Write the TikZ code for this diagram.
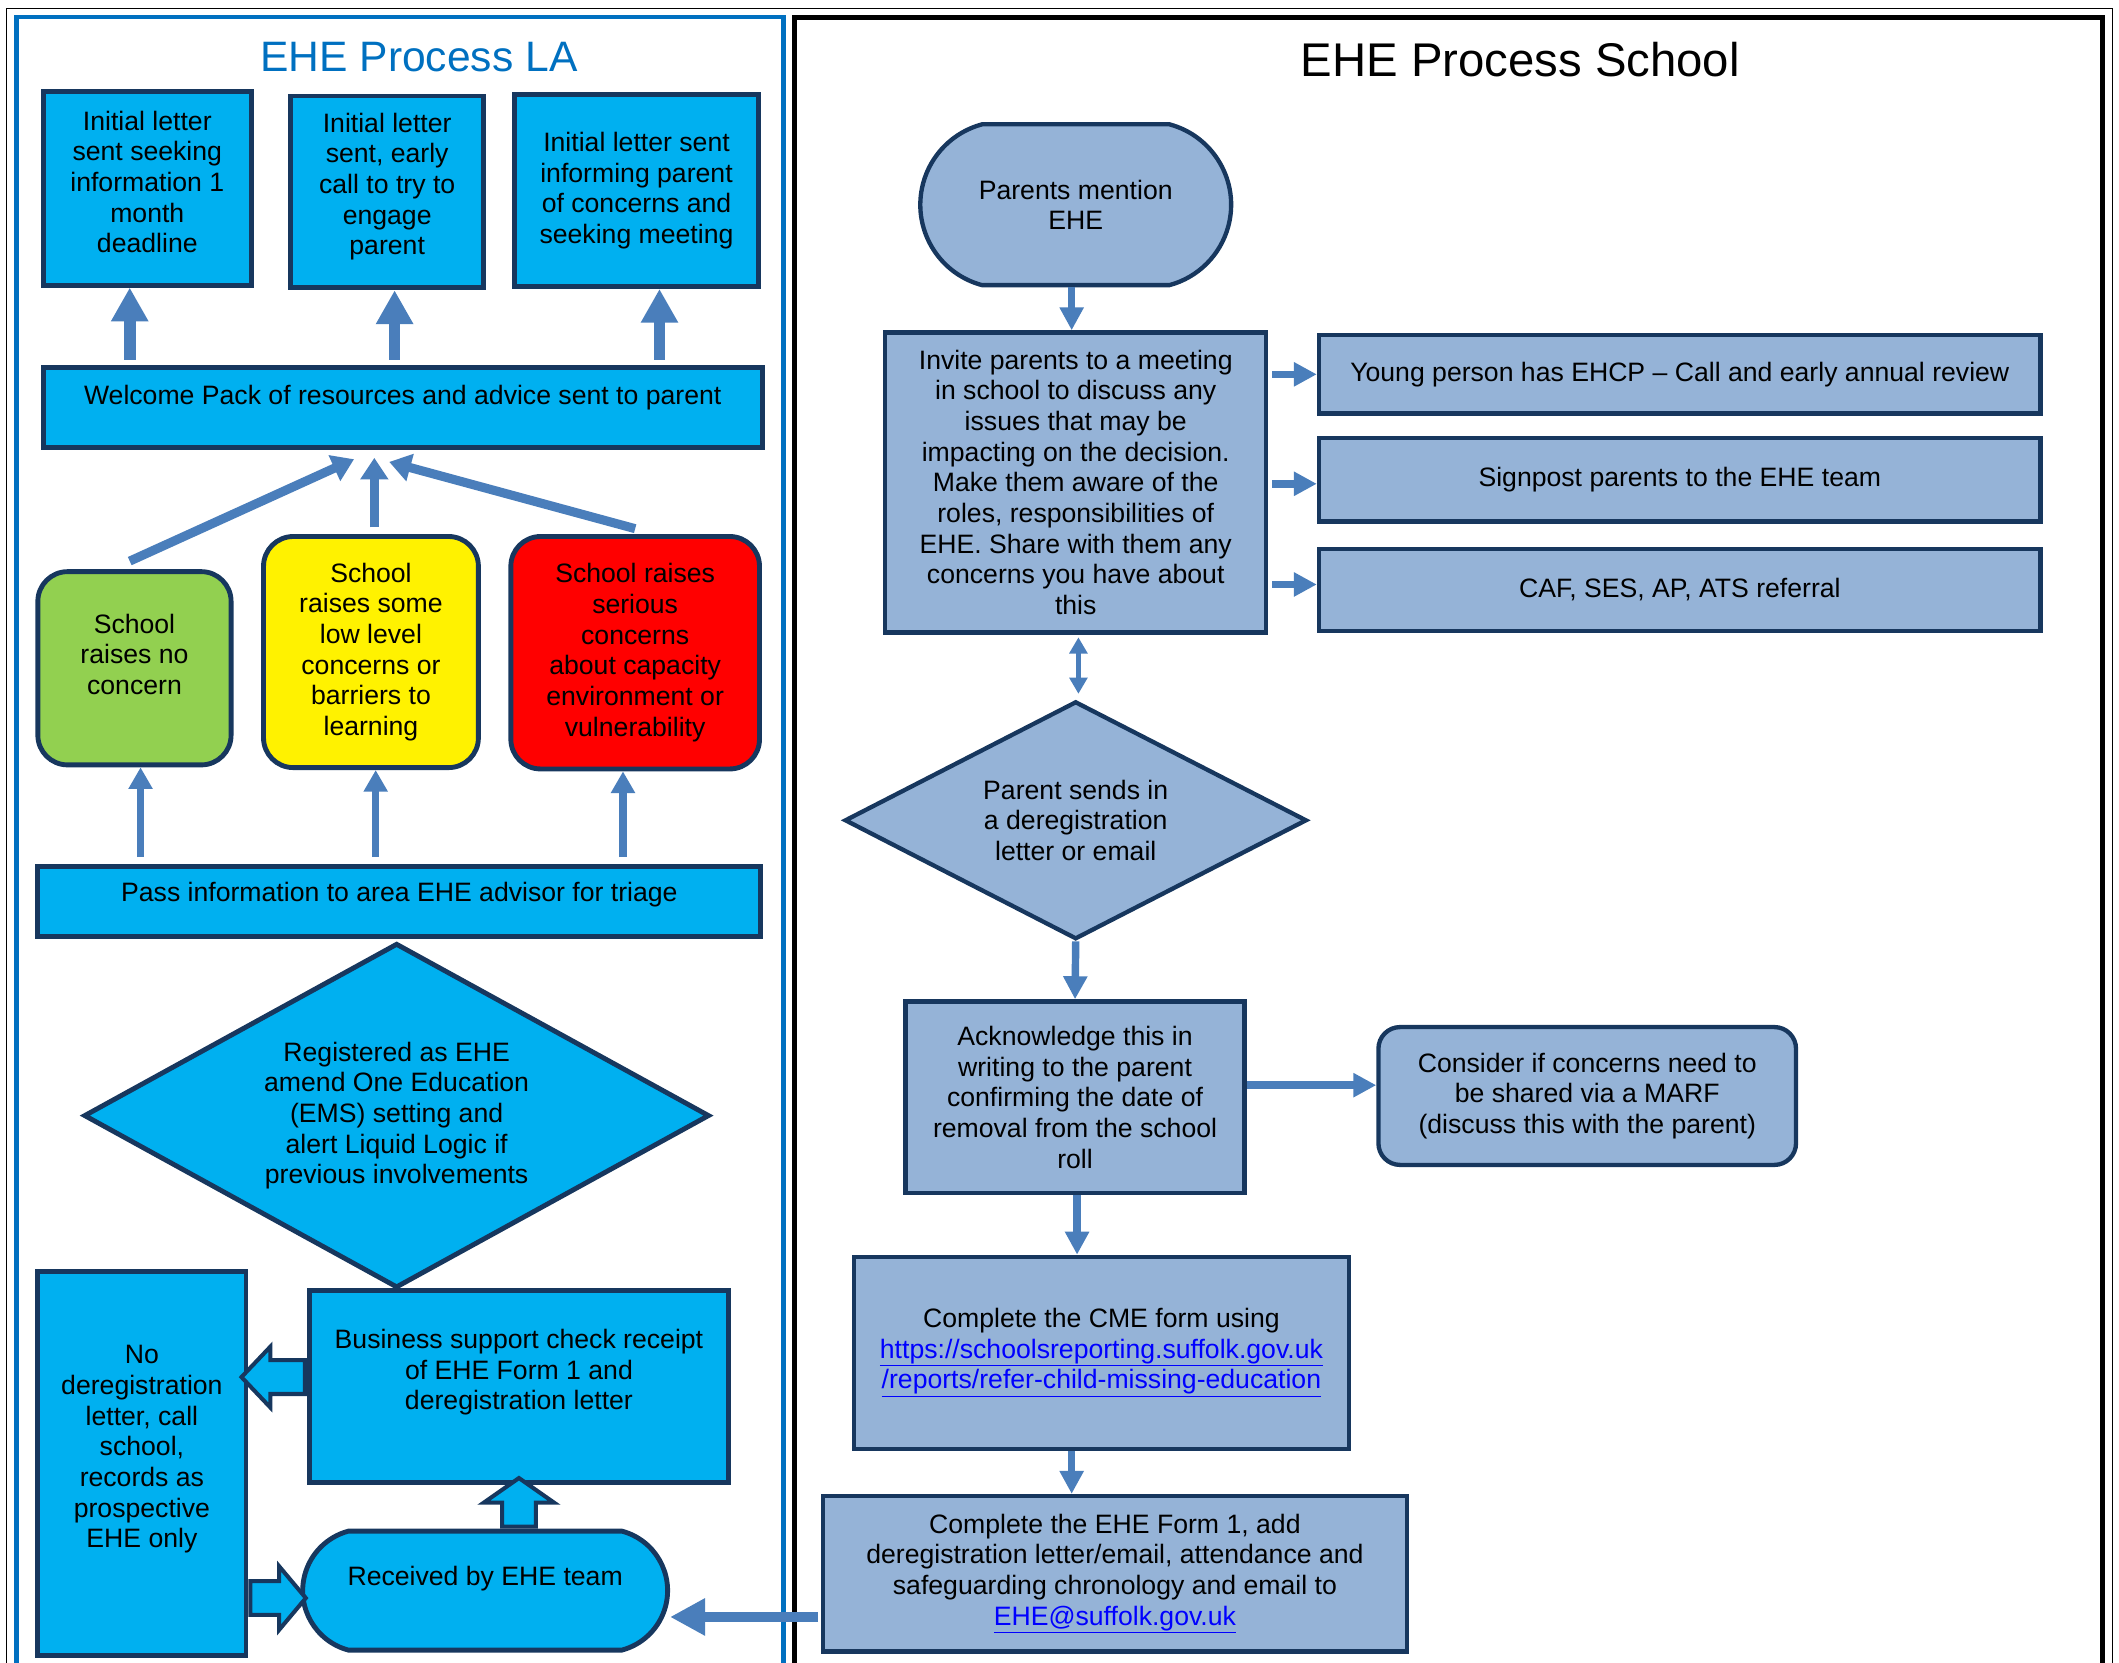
\documentclass[tikz,border=0pt]{standalone}
\usepackage{fontspec}
\setmainfont{Liberation Sans}
\usepackage{xcolor}
\usetikzlibrary{shapes.geometric,shapes.misc,shapes.arrows,arrows.meta,calc}

\definecolor{laCyan}{HTML}{00B0F0}
\definecolor{laBlue}{HTML}{0070C0}
\definecolor{edgeNavy}{HTML}{17375E}
\definecolor{arrBlue}{HTML}{4A7EBB}
\definecolor{schBlue}{HTML}{95B3D7}
\definecolor{okGreen}{HTML}{92D050}
\definecolor{linkBlue}{HTML}{0000FF}

\newcommand{\weblink}[1]{\textcolor{linkBlue}{\underline{#1}}}

\begin{document}
\begin{tikzpicture}[x=1pt, y=-1pt,
    txt/.style={font=\fontsize{19.7}{22.7}\selectfont, align=center, inner sep=0pt},
    labox/.style={txt, rectangle, draw=edgeNavy, line width=3.6pt, fill=laCyan},
    ragbox/.style={txt, rectangle, rounded corners=22pt, draw=edgeNavy, line width=3.6pt},
    schbox/.style={txt, rectangle, draw=edgeNavy, line width=3.2pt, fill=schBlue},
    lift/.style={text depth=#1},
    upfat/.style={arrBlue, line width=8.7pt, -{Triangle[width=26pt,length=25pt]}},
    upthin/.style={arrBlue, line width=5.2pt, -{Triangle[width=17pt,length=16pt]}},
    feed/.style={arrBlue, line width=6.7pt, -{Triangle[width=20pt,length=16pt]}},
    flow/.style={arrBlue, line width=5.5pt, -{Triangle[width=17pt,length=17pt]}},
    blockarr/.style={single arrow, draw=edgeNavy, line width=3pt, fill=laCyan, inner sep=11pt, anchor=tail}]
    \useasboundingbox (0,0) rectangle (1568,1230);

    % Frames.
    \draw[line width=0.5pt] (5,6) rectangle (1563,1240);
    \draw[laBlue, line width=3.5pt] (12,12.5) rectangle (580,1240);
    \draw[line width=3.5pt] (588,13) rectangle (1556,1240);

    % LA side.
    \node[font=\fontsize{31.5}{36}\selectfont, text=laBlue] (laTitle) at (310,42) {EHE Process LA};
    \node[labox, minimum width=154pt, minimum height=143pt, lift=10pt] (letterA) at (109,139.5)
        {Initial letter\\sent seeking\\information 1\\month\\deadline};
    \node[labox, minimum width=143pt, minimum height=142pt, lift=12pt] (letterB) at (286.5,142)
        {Initial letter\\sent, early\\call to try to\\engage\\parent};
    \node[labox, minimum width=180pt, minimum height=142pt] (letterC) at (471,141)
        {Initial letter sent\\informing parent\\of concerns and\\seeking meeting};
    \node[labox, minimum width=532pt, minimum height=59pt, lift=19pt] (welcome) at (298,301.5)
        {Welcome Pack of resources and advice sent to parent};
    \node[ragbox, fill=okGreen, minimum width=143pt, minimum height=143pt, lift=21pt] (noConcern) at (99.5,494.5)
        {School\\raises no\\concern};
    \node[ragbox, fill=yellow, minimum width=159pt, minimum height=171pt] (lowConcern) at (274.5,482.5)
        {School\\raises some\\low level\\concerns or\\barriers to\\learning};
    \node[ragbox, fill=red, minimum width=184pt, minimum height=172pt] (highConcern) at (470,483)
        {School raises\\serious\\concerns\\about capacity\\environment or\\vulnerability};
    \node[labox, minimum width=535pt, minimum height=52pt, lift=14pt] (triage) at (295.5,667)
        {Pass information to area EHE advisor for triage};
    \node[labox, diamond, aspect=1.82, minimum width=463pt, minimum height=255pt] (registered) at (293.5,825.5)
        {Registered as EHE\\amend One Education\\(EMS) setting and\\alert Liquid Logic if\\previous involvements};
    \node[labox, minimum width=154pt, minimum height=284pt, lift=25pt] (noDereg) at (105,1083)
        {No\\deregistration\\letter, call\\school,\\records as\\prospective\\EHE only};
    \node[labox, minimum width=310pt, minimum height=142pt, lift=25pt] (business) at (384,1026)
        {Business support check receipt\\of EHE Form 1 and\\deregistration letter};
    \node[labox, rounded rectangle, rounded rectangle arc length=150, minimum width=270pt, minimum height=88pt, lift=22pt] (received) at (359,1177)
        {Received by EHE team};

    % LA arrows.
    \draw[upfat] ($(welcome.north -| letterA.south)+(-13,-4)$) -- ($(letterA.south)+(-13,0)$);
    \draw[upfat] ($(welcome.north -| letterB.south)+(5.5,-4)$) -- ($(letterB.south)+(5.5,0)$);
    \draw[upfat] ($(welcome.north -| letterC.south)+(17,-4)$) -- ($(letterC.south)+(17,0)$);
    \draw[feed] ($(noConcern.north)+(-3.5,-6)$) -- ($(welcome.south)+(-36,7)$);
    \draw[feed] ($(lowConcern.north)+(2.5,-5)$) -- ($(welcome.south)+(-21,6)$);
    \draw[feed] ($(highConcern.north)+(0,-4)$) -- ($(welcome.south)+(-10,9)$);
    \draw[upthin] ($(triage.north -| noConcern.south)+(4.5,-5)$) -- ($(noConcern.south)+(4.5,0)$);
    \draw[upthin] ($(triage.north -| lowConcern.south)+(3.5,-5)$) -- ($(lowConcern.south)+(3.5,0)$);
    \draw[upthin] ($(triage.north -| highConcern.south)+(-9,-5)$) -- ($(highConcern.south)+(-9,0)$);
    \node[blockarr, shape border rotate=180, minimum height=47pt, minimum width=42pt, single arrow head extend=10pt, single arrow tip angle=93] (toNoDereg)
        at ($(business.west)+(0,-7)$) {};
    \node[blockarr, shape border rotate=90, minimum height=36pt, minimum width=49pt, single arrow head extend=13.5pt, single arrow tip angle=110] (toBusiness)
        at (business.south |- received.north) {};
    \node[blockarr, minimum height=41pt, minimum width=44pt, single arrow head extend=11pt, single arrow tip angle=100] (toReceived)
        at ($(noDereg.east |- received.west)+(0,5.5)$) {};

    % School side.
    \node[font=\fontsize{35}{40}\selectfont] (schTitle) at (1125,44) {EHE Process School};
    \node[schbox, rounded rectangle, rounded rectangle arc length=150, minimum width=230pt, minimum height=119pt] (mention) at (796,151.5)
        {Parents mention\\EHE};
    \node[schbox, minimum width=282pt, minimum height=222pt] (invite) at (796,357)
        {Invite parents to a meeting\\in school to discuss any\\issues that may be\\impacting on the decision.\\Make them aware of the\\roles, responsibilities of\\EHE. Share with them any\\concerns you have about\\this};
    \node[schbox, minimum width=534pt, minimum height=58pt] (ehcp) at (1243,277)
        {Young person has EHCP – Call and early annual review};
    \node[schbox, minimum width=534pt, minimum height=62pt] (signpost) at (1243,355)
        {Signpost parents to the EHE team};
    \node[schbox, minimum width=534pt, minimum height=61pt] (referral) at (1243,436.5)
        {CAF, SES, AP, ATS referral};
    \node[schbox, diamond, aspect=1.94, minimum width=342pt, minimum height=176pt] (deregLetter) at (796,607)
        {Parent sends in\\a deregistration\\letter or email};
    \node[schbox, minimum width=251pt, minimum height=142pt] (acknowledge) at (795.5,812)
        {Acknowledge this in\\writing to the parent\\confirming the date of\\removal from the school\\roll};
    \node[schbox, rounded corners=16pt, minimum width=309pt, minimum height=102pt] (marf) at (1174.5,811)
        {Consider if concerns need to\\be shared via a MARF\\(discuss this with the parent)};
    \node[schbox, minimum width=366pt, minimum height=142pt] (cmeForm) at (815,1001)
        {Complete the CME form using\\\weblink{https://schoolsreporting.suffolk.gov.uk}\\\weblink{/reports/refer-child-missing-education}};
    \node[schbox, minimum width=432pt, minimum height=115pt] (eheForm) at (825,1164.5)
        {Complete the EHE Form 1, add\\deregistration letter/email, attendance and\\safeguarding chronology and email to\\\weblink{EHE@suffolk.gov.uk}};

    % School arrows.
    \draw[flow, line width=5pt] ($(mention.south)+(-3,0)$) -- ($(invite.north)+(-3,0)$);
    \draw[flow] ($(invite.east |- ehcp.west)+(3,0)$) -- (ehcp.west);
    \draw[flow] ($(invite.east |- signpost.west)+(3,3)$) -- ($(signpost.west)+(0,3)$);
    \draw[flow] ($(invite.east |- referral.west)+(3,-4)$) -- ($(referral.west)+(0,-4)$);
    \draw[arrBlue, line width=4pt, {Triangle[width=13pt,length=12pt]}-{Triangle[width=13pt,length=12pt]}]
        ($(invite.south)+(2,2)$) -- ($(deregLetter.north)+(2,-4)$);
    \draw[flow] (deregLetter.south) -- (acknowledge.north);
    \draw[flow] ($(acknowledge.east)+(0,-9)$) -- ($(marf.west |- acknowledge.east)+(0,-9)$);
    \draw[flow] ($(acknowledge.south)+(1.5,0)$) -- ($(acknowledge.south |- cmeForm.north)+(1.5,0)$);
    \draw[flow] ($(cmeForm.south)+(-22,0)$) -- ($(cmeForm.south |- eheForm.north)+(-22,0)$);
    \draw[arrBlue, line width=7.4pt, -{Triangle[width=26pt,length=26pt]}]
        ($(eheForm.west)+(-2,32)$) -- ($(received.east |- eheForm.west)+(0,32)$);
\end{tikzpicture}
\end{document}
